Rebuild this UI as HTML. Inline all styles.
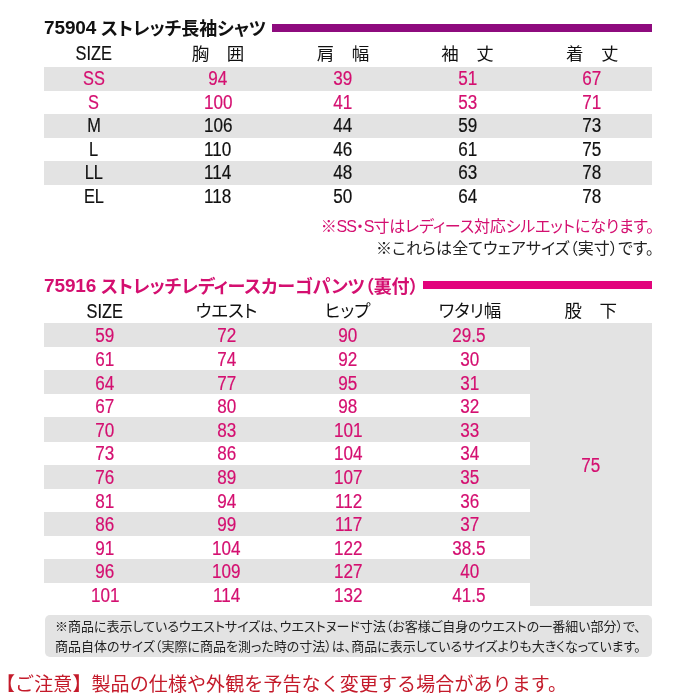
<!DOCTYPE html>
<html lang="ja"><head><meta charset="utf-8"><title>75904 / 75916 サイズ表</title>
<style>
*{margin:0;padding:0;box-sizing:border-box}
html,body{width:700px;height:700px;background:#fff;overflow:hidden}
body{position:relative;font-family:"Liberation Sans", "Noto Sans CJK JP", sans-serif;color:#1a1a1a;font-feature-settings:"palt"}
.a{position:absolute;white-space:nowrap}
.c{position:absolute;width:120px;text-align:center;white-space:nowrap}
.g{position:absolute;background:#e3e3e3}
.ttl{font-weight:bold;font-size:18px;line-height:26px;letter-spacing:-0.12px}
.ttl b{font-size:19px;position:relative;top:-1px}
.np{font-feature-settings:normal}
.lt{letter-spacing:-1px}
.sx{display:inline-block;-webkit-text-stroke:0.2px currentColor}
</style></head><body>

<div class="a ttl" style="left:44px;top:16px;color:#111"><b>75904</b> ストレッチ長袖シャツ</div>
<div class="g" style="left:272px;top:24px;width:380px;height:8px;background:#8e0b7e"></div>
<div class="g" style="left:44px;top:66.50px;width:608px;height:24.1px"></div>
<div class="g" style="left:44px;top:113.50px;width:608px;height:24.1px"></div>
<div class="g" style="left:44px;top:160.50px;width:608px;height:24.1px"></div>
<div class="c" style="left:33.7px;top:42.30px;height:23.6px;line-height:23.6px;font-size:19.5px;color:#111;"><span class="sx" style="transform:scaleX(0.838)">SIZE</span></div>
<div class="c" style="left:158.0px;top:43.00px;height:23.6px;line-height:23.6px;font-size:17.5px;color:#111;">胸　囲</div>
<div class="c" style="left:283.0px;top:43.00px;height:23.6px;line-height:23.6px;font-size:17.5px;color:#111;">肩　幅</div>
<div class="c" style="left:407.5px;top:43.00px;height:23.6px;line-height:23.6px;font-size:17.5px;color:#111;">袖　丈</div>
<div class="c" style="left:532.3px;top:43.00px;height:23.6px;line-height:23.6px;font-size:17.5px;color:#111;">着　丈</div>
<div class="c" style="left:33.7px;top:66.90px;height:23.6px;line-height:23.6px;font-size:19.5px;color:#d40f70;"><span class="sx" style="transform:scaleX(0.838)">SS</span></div>
<div class="c" style="left:158.0px;top:66.90px;height:23.6px;line-height:23.6px;font-size:19.5px;color:#d40f70;"><span class="sx" style="transform:scaleX(0.877)">94</span></div>
<div class="c" style="left:283.0px;top:66.90px;height:23.6px;line-height:23.6px;font-size:19.5px;color:#d40f70;"><span class="sx" style="transform:scaleX(0.877)">39</span></div>
<div class="c" style="left:407.5px;top:66.90px;height:23.6px;line-height:23.6px;font-size:19.5px;color:#d40f70;"><span class="sx" style="transform:scaleX(0.877)">51</span></div>
<div class="c" style="left:532.3px;top:66.90px;height:23.6px;line-height:23.6px;font-size:19.5px;color:#d40f70;"><span class="sx" style="transform:scaleX(0.877)">67</span></div>
<div class="c" style="left:33.7px;top:90.50px;height:23.6px;line-height:23.6px;font-size:19.5px;color:#d40f70;"><span class="sx" style="transform:scaleX(0.838)">S</span></div>
<div class="c" style="left:158.0px;top:90.50px;height:23.6px;line-height:23.6px;font-size:19.5px;color:#d40f70;"><span class="sx" style="transform:scaleX(0.877)">100</span></div>
<div class="c" style="left:283.0px;top:90.50px;height:23.6px;line-height:23.6px;font-size:19.5px;color:#d40f70;"><span class="sx" style="transform:scaleX(0.877)">41</span></div>
<div class="c" style="left:407.5px;top:90.50px;height:23.6px;line-height:23.6px;font-size:19.5px;color:#d40f70;"><span class="sx" style="transform:scaleX(0.877)">53</span></div>
<div class="c" style="left:532.3px;top:90.50px;height:23.6px;line-height:23.6px;font-size:19.5px;color:#d40f70;"><span class="sx" style="transform:scaleX(0.877)">71</span></div>
<div class="c" style="left:33.7px;top:114.10px;height:23.6px;line-height:23.6px;font-size:19.5px;color:#111;"><span class="sx" style="transform:scaleX(0.838)">M</span></div>
<div class="c" style="left:158.0px;top:114.10px;height:23.6px;line-height:23.6px;font-size:19.5px;color:#111;"><span class="sx" style="transform:scaleX(0.877)">106</span></div>
<div class="c" style="left:283.0px;top:114.10px;height:23.6px;line-height:23.6px;font-size:19.5px;color:#111;"><span class="sx" style="transform:scaleX(0.877)">44</span></div>
<div class="c" style="left:407.5px;top:114.10px;height:23.6px;line-height:23.6px;font-size:19.5px;color:#111;"><span class="sx" style="transform:scaleX(0.877)">59</span></div>
<div class="c" style="left:532.3px;top:114.10px;height:23.6px;line-height:23.6px;font-size:19.5px;color:#111;"><span class="sx" style="transform:scaleX(0.877)">73</span></div>
<div class="c" style="left:33.7px;top:137.70px;height:23.6px;line-height:23.6px;font-size:19.5px;color:#111;"><span class="sx" style="transform:scaleX(0.838)">L</span></div>
<div class="c" style="left:158.0px;top:137.70px;height:23.6px;line-height:23.6px;font-size:19.5px;color:#111;"><span class="sx" style="transform:scaleX(0.877)">110</span></div>
<div class="c" style="left:283.0px;top:137.70px;height:23.6px;line-height:23.6px;font-size:19.5px;color:#111;"><span class="sx" style="transform:scaleX(0.877)">46</span></div>
<div class="c" style="left:407.5px;top:137.70px;height:23.6px;line-height:23.6px;font-size:19.5px;color:#111;"><span class="sx" style="transform:scaleX(0.877)">61</span></div>
<div class="c" style="left:532.3px;top:137.70px;height:23.6px;line-height:23.6px;font-size:19.5px;color:#111;"><span class="sx" style="transform:scaleX(0.877)">75</span></div>
<div class="c" style="left:33.7px;top:161.30px;height:23.6px;line-height:23.6px;font-size:19.5px;color:#111;"><span class="sx" style="transform:scaleX(0.838)">LL</span></div>
<div class="c" style="left:158.0px;top:161.30px;height:23.6px;line-height:23.6px;font-size:19.5px;color:#111;"><span class="sx" style="transform:scaleX(0.877)">114</span></div>
<div class="c" style="left:283.0px;top:161.30px;height:23.6px;line-height:23.6px;font-size:19.5px;color:#111;"><span class="sx" style="transform:scaleX(0.877)">48</span></div>
<div class="c" style="left:407.5px;top:161.30px;height:23.6px;line-height:23.6px;font-size:19.5px;color:#111;"><span class="sx" style="transform:scaleX(0.877)">63</span></div>
<div class="c" style="left:532.3px;top:161.30px;height:23.6px;line-height:23.6px;font-size:19.5px;color:#111;"><span class="sx" style="transform:scaleX(0.877)">78</span></div>
<div class="c" style="left:33.7px;top:184.90px;height:23.6px;line-height:23.6px;font-size:19.5px;color:#111;"><span class="sx" style="transform:scaleX(0.838)">EL</span></div>
<div class="c" style="left:158.0px;top:184.90px;height:23.6px;line-height:23.6px;font-size:19.5px;color:#111;"><span class="sx" style="transform:scaleX(0.877)">118</span></div>
<div class="c" style="left:283.0px;top:184.90px;height:23.6px;line-height:23.6px;font-size:19.5px;color:#111;"><span class="sx" style="transform:scaleX(0.877)">50</span></div>
<div class="c" style="left:407.5px;top:184.90px;height:23.6px;line-height:23.6px;font-size:19.5px;color:#111;"><span class="sx" style="transform:scaleX(0.877)">64</span></div>
<div class="c" style="left:532.3px;top:184.90px;height:23.6px;line-height:23.6px;font-size:19.5px;color:#111;"><span class="sx" style="transform:scaleX(0.877)">78</span></div>
<div class="a" style="right:46px;top:215px;font-size:16px;line-height:24px;color:#d40f70;letter-spacing:-0.16px">※<span class="lt">SS</span>・<span class="lt">S</span>寸はレディース対応シルエットになります。</div>
<div class="a" style="right:46px;top:237px;font-size:16px;line-height:24px;color:#222;letter-spacing:0.1px">※これらは全てウェアサイズ（実寸）です。</div>
<div class="a ttl" style="left:44px;top:274px;color:#d40f70"><b>75916</b> ストレッチレディースカーゴパンツ（裏付）</div>
<div class="g" style="left:422.6px;top:281px;width:229.4px;height:8px;background:#e2047c"></div>
<div class="g" style="left:44px;top:323.00px;width:486.4px;height:24.3px"></div>
<div class="g" style="left:44px;top:370.20px;width:486.4px;height:24.3px"></div>
<div class="g" style="left:44px;top:417.40px;width:486.4px;height:24.3px"></div>
<div class="g" style="left:44px;top:464.60px;width:486.4px;height:24.3px"></div>
<div class="g" style="left:44px;top:511.80px;width:486.4px;height:24.3px"></div>
<div class="g" style="left:44px;top:559.00px;width:486.4px;height:24.3px"></div>
<div class="g" style="left:530.4px;top:323.1px;width:121.6px;height:283.20px"></div>
<div class="c" style="left:45.0px;top:299.50px;height:23.6px;line-height:23.6px;font-size:19.5px;color:#111;"><span class="sx" style="transform:scaleX(0.838)">SIZE</span></div>
<div class="c" style="left:166.4px;top:299.50px;height:23.6px;line-height:23.6px;font-size:17.5px;color:#111;">ウエスト</div>
<div class="c" style="left:287.5px;top:299.50px;height:23.6px;line-height:23.6px;font-size:17.5px;color:#111;">ヒップ</div>
<div class="c" style="left:410.0px;top:299.50px;height:23.6px;line-height:23.6px;font-size:17.5px;color:#111;">ワタリ幅</div>
<div class="c" style="left:530.7px;top:299.50px;height:23.6px;line-height:23.6px;font-size:17.5px;color:#111;">股　下</div>
<div class="c" style="left:44.8px;top:324.40px;height:23.6px;line-height:23.6px;font-size:19.5px;color:#d40f70;"><span class="sx" style="transform:scaleX(0.877)">59</span></div>
<div class="c" style="left:166.4px;top:324.40px;height:23.6px;line-height:23.6px;font-size:19.5px;color:#d40f70;"><span class="sx" style="transform:scaleX(0.877)">72</span></div>
<div class="c" style="left:288.1px;top:324.40px;height:23.6px;line-height:23.6px;font-size:19.5px;color:#d40f70;"><span class="sx" style="transform:scaleX(0.877)">90</span></div>
<div class="c" style="left:409.4px;top:324.40px;height:23.6px;line-height:23.6px;font-size:19.5px;color:#d40f70;"><span class="sx" style="transform:scaleX(0.877)">29.5</span></div>
<div class="c" style="left:44.8px;top:348.00px;height:23.6px;line-height:23.6px;font-size:19.5px;color:#d40f70;"><span class="sx" style="transform:scaleX(0.877)">61</span></div>
<div class="c" style="left:166.4px;top:348.00px;height:23.6px;line-height:23.6px;font-size:19.5px;color:#d40f70;"><span class="sx" style="transform:scaleX(0.877)">74</span></div>
<div class="c" style="left:288.1px;top:348.00px;height:23.6px;line-height:23.6px;font-size:19.5px;color:#d40f70;"><span class="sx" style="transform:scaleX(0.877)">92</span></div>
<div class="c" style="left:409.4px;top:348.00px;height:23.6px;line-height:23.6px;font-size:19.5px;color:#d40f70;"><span class="sx" style="transform:scaleX(0.877)">30</span></div>
<div class="c" style="left:44.8px;top:371.60px;height:23.6px;line-height:23.6px;font-size:19.5px;color:#d40f70;"><span class="sx" style="transform:scaleX(0.877)">64</span></div>
<div class="c" style="left:166.4px;top:371.60px;height:23.6px;line-height:23.6px;font-size:19.5px;color:#d40f70;"><span class="sx" style="transform:scaleX(0.877)">77</span></div>
<div class="c" style="left:288.1px;top:371.60px;height:23.6px;line-height:23.6px;font-size:19.5px;color:#d40f70;"><span class="sx" style="transform:scaleX(0.877)">95</span></div>
<div class="c" style="left:409.4px;top:371.60px;height:23.6px;line-height:23.6px;font-size:19.5px;color:#d40f70;"><span class="sx" style="transform:scaleX(0.877)">31</span></div>
<div class="c" style="left:44.8px;top:395.20px;height:23.6px;line-height:23.6px;font-size:19.5px;color:#d40f70;"><span class="sx" style="transform:scaleX(0.877)">67</span></div>
<div class="c" style="left:166.4px;top:395.20px;height:23.6px;line-height:23.6px;font-size:19.5px;color:#d40f70;"><span class="sx" style="transform:scaleX(0.877)">80</span></div>
<div class="c" style="left:288.1px;top:395.20px;height:23.6px;line-height:23.6px;font-size:19.5px;color:#d40f70;"><span class="sx" style="transform:scaleX(0.877)">98</span></div>
<div class="c" style="left:409.4px;top:395.20px;height:23.6px;line-height:23.6px;font-size:19.5px;color:#d40f70;"><span class="sx" style="transform:scaleX(0.877)">32</span></div>
<div class="c" style="left:44.8px;top:418.80px;height:23.6px;line-height:23.6px;font-size:19.5px;color:#d40f70;"><span class="sx" style="transform:scaleX(0.877)">70</span></div>
<div class="c" style="left:166.4px;top:418.80px;height:23.6px;line-height:23.6px;font-size:19.5px;color:#d40f70;"><span class="sx" style="transform:scaleX(0.877)">83</span></div>
<div class="c" style="left:288.1px;top:418.80px;height:23.6px;line-height:23.6px;font-size:19.5px;color:#d40f70;"><span class="sx" style="transform:scaleX(0.877)">101</span></div>
<div class="c" style="left:409.4px;top:418.80px;height:23.6px;line-height:23.6px;font-size:19.5px;color:#d40f70;"><span class="sx" style="transform:scaleX(0.877)">33</span></div>
<div class="c" style="left:44.8px;top:442.40px;height:23.6px;line-height:23.6px;font-size:19.5px;color:#d40f70;"><span class="sx" style="transform:scaleX(0.877)">73</span></div>
<div class="c" style="left:166.4px;top:442.40px;height:23.6px;line-height:23.6px;font-size:19.5px;color:#d40f70;"><span class="sx" style="transform:scaleX(0.877)">86</span></div>
<div class="c" style="left:288.1px;top:442.40px;height:23.6px;line-height:23.6px;font-size:19.5px;color:#d40f70;"><span class="sx" style="transform:scaleX(0.877)">104</span></div>
<div class="c" style="left:409.4px;top:442.40px;height:23.6px;line-height:23.6px;font-size:19.5px;color:#d40f70;"><span class="sx" style="transform:scaleX(0.877)">34</span></div>
<div class="c" style="left:44.8px;top:466.00px;height:23.6px;line-height:23.6px;font-size:19.5px;color:#d40f70;"><span class="sx" style="transform:scaleX(0.877)">76</span></div>
<div class="c" style="left:166.4px;top:466.00px;height:23.6px;line-height:23.6px;font-size:19.5px;color:#d40f70;"><span class="sx" style="transform:scaleX(0.877)">89</span></div>
<div class="c" style="left:288.1px;top:466.00px;height:23.6px;line-height:23.6px;font-size:19.5px;color:#d40f70;"><span class="sx" style="transform:scaleX(0.877)">107</span></div>
<div class="c" style="left:409.4px;top:466.00px;height:23.6px;line-height:23.6px;font-size:19.5px;color:#d40f70;"><span class="sx" style="transform:scaleX(0.877)">35</span></div>
<div class="c" style="left:44.8px;top:489.60px;height:23.6px;line-height:23.6px;font-size:19.5px;color:#d40f70;"><span class="sx" style="transform:scaleX(0.877)">81</span></div>
<div class="c" style="left:166.4px;top:489.60px;height:23.6px;line-height:23.6px;font-size:19.5px;color:#d40f70;"><span class="sx" style="transform:scaleX(0.877)">94</span></div>
<div class="c" style="left:288.1px;top:489.60px;height:23.6px;line-height:23.6px;font-size:19.5px;color:#d40f70;"><span class="sx" style="transform:scaleX(0.877)">112</span></div>
<div class="c" style="left:409.4px;top:489.60px;height:23.6px;line-height:23.6px;font-size:19.5px;color:#d40f70;"><span class="sx" style="transform:scaleX(0.877)">36</span></div>
<div class="c" style="left:44.8px;top:513.20px;height:23.6px;line-height:23.6px;font-size:19.5px;color:#d40f70;"><span class="sx" style="transform:scaleX(0.877)">86</span></div>
<div class="c" style="left:166.4px;top:513.20px;height:23.6px;line-height:23.6px;font-size:19.5px;color:#d40f70;"><span class="sx" style="transform:scaleX(0.877)">99</span></div>
<div class="c" style="left:288.1px;top:513.20px;height:23.6px;line-height:23.6px;font-size:19.5px;color:#d40f70;"><span class="sx" style="transform:scaleX(0.877)">117</span></div>
<div class="c" style="left:409.4px;top:513.20px;height:23.6px;line-height:23.6px;font-size:19.5px;color:#d40f70;"><span class="sx" style="transform:scaleX(0.877)">37</span></div>
<div class="c" style="left:44.8px;top:536.80px;height:23.6px;line-height:23.6px;font-size:19.5px;color:#d40f70;"><span class="sx" style="transform:scaleX(0.877)">91</span></div>
<div class="c" style="left:166.4px;top:536.80px;height:23.6px;line-height:23.6px;font-size:19.5px;color:#d40f70;"><span class="sx" style="transform:scaleX(0.877)">104</span></div>
<div class="c" style="left:288.1px;top:536.80px;height:23.6px;line-height:23.6px;font-size:19.5px;color:#d40f70;"><span class="sx" style="transform:scaleX(0.877)">122</span></div>
<div class="c" style="left:409.4px;top:536.80px;height:23.6px;line-height:23.6px;font-size:19.5px;color:#d40f70;"><span class="sx" style="transform:scaleX(0.877)">38.5</span></div>
<div class="c" style="left:44.8px;top:560.40px;height:23.6px;line-height:23.6px;font-size:19.5px;color:#d40f70;"><span class="sx" style="transform:scaleX(0.877)">96</span></div>
<div class="c" style="left:166.4px;top:560.40px;height:23.6px;line-height:23.6px;font-size:19.5px;color:#d40f70;"><span class="sx" style="transform:scaleX(0.877)">109</span></div>
<div class="c" style="left:288.1px;top:560.40px;height:23.6px;line-height:23.6px;font-size:19.5px;color:#d40f70;"><span class="sx" style="transform:scaleX(0.877)">127</span></div>
<div class="c" style="left:409.4px;top:560.40px;height:23.6px;line-height:23.6px;font-size:19.5px;color:#d40f70;"><span class="sx" style="transform:scaleX(0.877)">40</span></div>
<div class="c" style="left:44.8px;top:584.00px;height:23.6px;line-height:23.6px;font-size:19.5px;color:#d40f70;"><span class="sx" style="transform:scaleX(0.877)">101</span></div>
<div class="c" style="left:166.4px;top:584.00px;height:23.6px;line-height:23.6px;font-size:19.5px;color:#d40f70;"><span class="sx" style="transform:scaleX(0.877)">114</span></div>
<div class="c" style="left:288.1px;top:584.00px;height:23.6px;line-height:23.6px;font-size:19.5px;color:#d40f70;"><span class="sx" style="transform:scaleX(0.877)">132</span></div>
<div class="c" style="left:409.4px;top:584.00px;height:23.6px;line-height:23.6px;font-size:19.5px;color:#d40f70;"><span class="sx" style="transform:scaleX(0.877)">41.5</span></div>
<div class="c" style="left:531.0px;top:453.70px;height:23.6px;line-height:23.6px;font-size:19.5px;color:#d40f70;"><span class="sx" style="transform:scaleX(0.877)">75</span></div>
<div class="g" style="left:45px;top:615.2px;width:607.0px;height:41.9px;border-radius:5px"></div>
<div class="a" style="left:55px;top:617px;font-size:13px;line-height:19.5px;color:#222">※商品に表示しているウエストサイズは、ウエストヌード寸法（お客様ご自身のウエストの一番細い部分）で、<br>商品自体のサイズ（実際に商品を測った時の寸法）は、商品に表示しているサイズよりも大きくなっています。</div>
<div class="a np" style="left:-4px;top:670px;font-size:19px;line-height:30px;letter-spacing:0.1px;color:#c41a2a">【ご注意】製品の仕様や外観を予告なく変更する場合があります。</div>
</body></html>
